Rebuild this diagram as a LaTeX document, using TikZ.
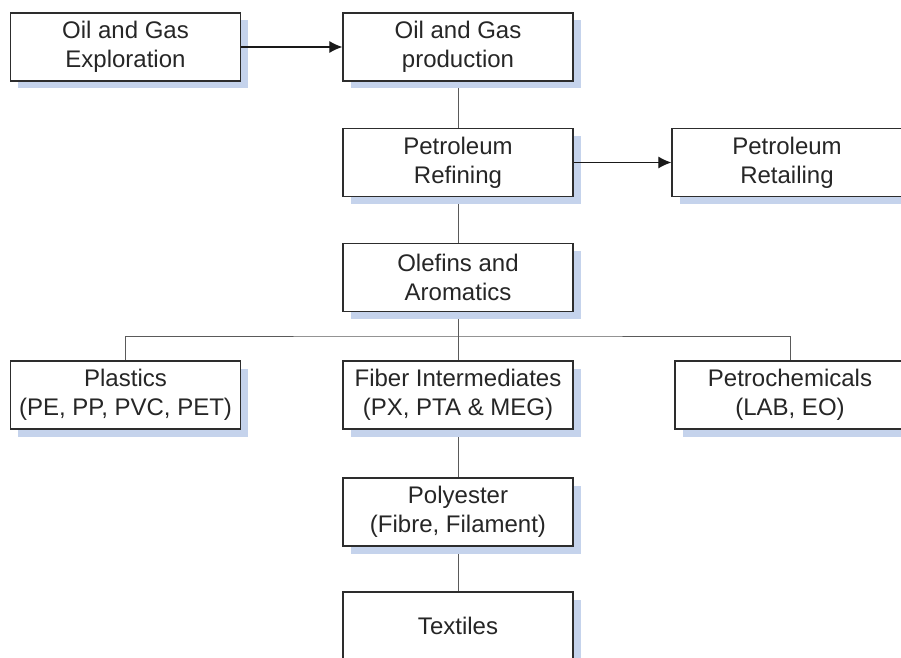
\documentclass[tikz,border=0pt]{standalone}
\usepackage{fontspec}
\setmainfont{Liberation Sans}
\usetikzlibrary{arrows.meta, shadows, backgrounds}
\definecolor{shadowblue}{RGB}{197,211,236}
\definecolor{boxline}{RGB}{45,45,45}
\definecolor{linkgray}{RGB}{90,90,90}

\begin{document}
\begin{tikzpicture}[x=0.5pt, y=-0.5pt]
            \tikzset{stage/.style={draw=boxline, line width=0.65pt, fill=white,
                minimum width=115pt, minimum height=34pt, inner sep=1pt, align=center,
                text=black!85, font=\fontsize{12}{14.4}\selectfont,
                drop shadow={shadow xshift=3.75pt, shadow yshift=-3.75pt, fill=shadowblue, opacity=1}}}
            \tikzset{link/.style={draw=linkgray, line width=0.5pt}}
            \tikzset{flow/.style={draw=black!90, line width=0.55pt, -{Latex[length=6.5pt, width=6pt]}}}
            \useasboundingbox (0, 0) rectangle (901, 658);
            \clip (0, 0) rectangle (901, 658);
            \node[stage] (explore) at (125.5, 47) {Oil and Gas\\Exploration};
            \node[stage] (produce) at (458, 47) {Oil and Gas\\production};
            \node[stage] (refine) at (458, 162.5) {Petroleum\\Refining};
            \node[stage] (retail) at (787, 162.5) {Petroleum\\Retailing};
            \node[stage] (olefin) at (458, 277.5) {Olefins and\\Aromatics};
            \node[stage] (plastic) at (125.5, 395) {Plastics\\(PE, PP, PVC, PET)};
            \node[stage] (fiber) at (458, 395) {Fiber Intermediates\\(PX, PTA \& MEG)};
            \node[stage] (petrochem) at (790, 395) {Petrochemicals\\(LAB, EO)};
            \node[stage] (polyester) at (458, 512) {Polyester\\(Fibre, Filament)};
            \node[stage] (textile) at (458, 626) {Textiles};
            \coordinate (bus) at (458, 336);
            \begin{scope}[on background layer]
                \draw[link] (produce) -- (refine);
                \draw[link] (refine) -- (olefin);
                \draw[link] (olefin) -- (fiber);
                \draw[link] (plastic.north) |- (bus) -| (petrochem.north);
                \draw[link] (fiber) -- (polyester);
                \draw[link] (polyester) -- (textile);
            \end{scope}
            \draw[flow] (explore) -- (produce);
            \draw[flow] (refine) -- (retail);
        \end{tikzpicture}
\end{document}
